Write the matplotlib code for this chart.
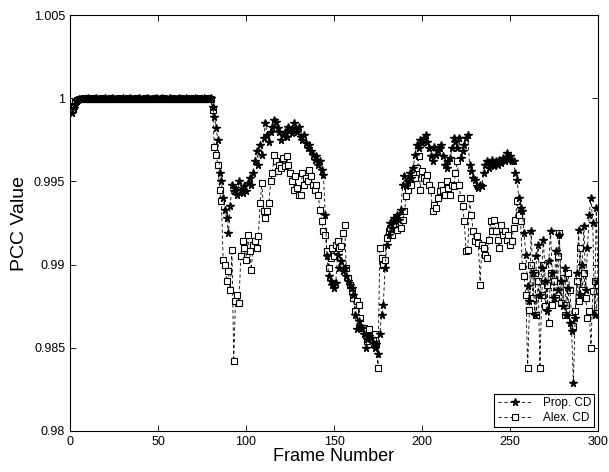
import numpy as np
import matplotlib
matplotlib.use('Agg')
import matplotlib.pyplot as plt

plt.rcParams['font.family'] = ['Liberation Sans', 'DejaVu Sans']

# PCC values per frame (frames 1..300)
prop_cd = [
    0.99910, 0.99940, 0.99965, 0.99985, 0.99993, 0.99997, 0.99995, 0.99998, 0.99996, 0.99999,
    0.99997, 0.99994, 0.99998, 0.99996, 0.99999, 0.99995, 0.99997, 0.99998, 0.99996, 0.99999,
    0.99996, 0.99998, 0.99995, 0.99999, 0.99997, 0.99996, 0.99998, 0.99994, 0.99997, 0.99999,
    0.99995, 0.99998, 0.99996, 0.99999, 0.99997, 0.99995, 0.99998, 0.99996, 0.99999, 0.99997,
    0.99994, 0.99998, 0.99996, 0.99999, 0.99995, 0.99997, 0.99998, 0.99996, 0.99999, 0.99995,
    0.99997, 0.99999, 0.99996, 0.99998, 0.99995, 0.99997, 0.99999, 0.99996, 0.99998, 0.99994,
    0.99997, 0.99999, 0.99995, 0.99998, 0.99996, 0.99999, 0.99997, 0.99995, 0.99998, 0.99996,
    0.99999, 0.99997, 0.99994, 0.99998, 0.99996, 0.99999, 0.99997, 0.99998, 0.99996, 0.99999,
    0.9995, 0.9989, 0.9982, 0.9975, 0.9955, 0.9950, 0.9940, 0.9933, 0.9928, 0.9919,
    0.9935, 0.9948, 0.9944, 0.9946, 0.9942, 0.9950, 0.9945, 0.9943, 0.9947, 0.9944,
    0.9949, 0.9952, 0.9948, 0.9955, 0.9962, 0.9968, 0.9960, 0.9972, 0.9966, 0.9976,
    0.9985, 0.9978, 0.9974, 0.9980, 0.9983, 0.9987, 0.9986, 0.9982, 0.9980, 0.9975,
    0.9978, 0.9980, 0.9977, 0.9983, 0.9981, 0.9979, 0.9985, 0.9982, 0.9980, 0.9983,
    0.9977, 0.9975, 0.9978, 0.9973, 0.9970, 0.9972, 0.9968, 0.9966, 0.9963, 0.9965,
    0.9960, 0.9962, 0.9957, 0.9954, 0.9930, 0.9905, 0.9893, 0.9890, 0.9888, 0.9886,
    0.9889, 0.9906, 0.9898, 0.9902, 0.9896, 0.9898, 0.9893, 0.9890, 0.9888, 0.9886,
    0.9882, 0.9870, 0.9861, 0.9866, 0.9863, 0.9862, 0.9858, 0.9850, 0.9855, 0.9857,
    0.9856, 0.9853, 0.9850, 0.9852, 0.9846, 0.9858, 0.9870, 0.9876, 0.9898, 0.9912,
    0.9918, 0.9925, 0.9922, 0.9928, 0.9926, 0.9930, 0.9927, 0.9933, 0.9948, 0.9953,
    0.9947, 0.9950, 0.9955, 0.9952, 0.9958, 0.9966, 0.9972, 0.9970, 0.9975, 0.9973,
    0.9976, 0.9978, 0.9974, 0.9970, 0.9965, 0.9962, 0.9971, 0.9966, 0.9968, 0.9970,
    0.9972, 0.9965, 0.9960, 0.9958, 0.9962, 0.9964, 0.9970, 0.9976, 0.9974, 0.9970,
    0.9976, 0.9964, 0.9968, 0.9972, 0.9976, 0.9978, 0.9960, 0.9956, 0.9952, 0.9951,
    0.9947, 0.9946, 0.9948, 0.9947, 0.9955, 0.9960, 0.9962, 0.9958, 0.9961, 0.9963,
    0.9959, 0.9962, 0.9960, 0.9963, 0.9961, 0.9964, 0.9962, 0.9967, 0.9963, 0.9965,
    0.9962, 0.9962, 0.9955, 0.9951, 0.9940, 0.9934, 0.9932, 0.9919, 0.9906, 0.9887,
    0.9878, 0.9920, 0.9895, 0.9870, 0.9905, 0.9912, 0.9882, 0.9898, 0.9915, 0.9890,
    0.9872, 0.9902, 0.9920, 0.9895, 0.9880, 0.9908, 0.9885, 0.9918, 0.9890, 0.9875,
    0.9898, 0.9870, 0.9886, 0.9865, 0.9860, 0.9829, 0.9868, 0.9895, 0.9921, 0.9882,
    0.9900, 0.9923, 0.9885, 0.9910, 0.9930, 0.9940, 0.9925, 0.9870, 0.9934, 0.9890,
]

alex_cd = [
    0.99930, 0.99955, 0.99975, 0.99990, 0.99995, 0.99998, 0.99996, 0.99999, 0.99997, 0.99995,
    0.99998, 0.99996, 0.99999, 0.99997, 0.99995, 0.99998, 0.99996, 0.99999, 0.99997, 0.99995,
    0.99998, 0.99996, 0.99999, 0.99997, 0.99995, 0.99998, 0.99996, 0.99999, 0.99997, 0.99995,
    0.99998, 0.99996, 0.99999, 0.99997, 0.99995, 0.99998, 0.99996, 0.99999, 0.99997, 0.99995,
    0.99998, 0.99996, 0.99999, 0.99997, 0.99995, 0.99998, 0.99996, 0.99999, 0.99997, 0.99995,
    0.99998, 0.99996, 0.99999, 0.99997, 0.99995, 0.99998, 0.99996, 0.99999, 0.99997, 0.99995,
    0.99998, 0.99996, 0.99999, 0.99997, 0.99995, 0.99998, 0.99996, 0.99999, 0.99997, 0.99995,
    0.99998, 0.99996, 0.99999, 0.99997, 0.99995, 0.99998, 0.99996, 0.99999, 0.99997, 0.99995,
    0.9993, 0.9971, 0.9966, 0.9960, 0.9945, 0.9938, 0.9903, 0.9900, 0.9890, 0.9896,
    0.9885, 0.9909, 0.9842, 0.9878, 0.9882, 0.9877, 0.9905, 0.9914, 0.9910, 0.9903,
    0.9918, 0.9908, 0.9897, 0.9912, 0.9914, 0.9910, 0.9917, 0.9937, 0.9949, 0.9932,
    0.9928, 0.9932, 0.9937, 0.9950, 0.9955, 0.9966, 0.9962, 0.9956, 0.9960, 0.9958,
    0.9964, 0.9959, 0.9965, 0.9960, 0.9955, 0.9950, 0.9945, 0.9953, 0.9946, 0.9942,
    0.9942, 0.9955, 0.9948, 0.9952, 0.9950, 0.9957, 0.9953, 0.9948, 0.9945, 0.9948,
    0.9942, 0.9933, 0.9926, 0.9920, 0.9918, 0.9908, 0.9898, 0.9904, 0.9910, 0.9905,
    0.9912, 0.9914, 0.9910, 0.9911, 0.9919, 0.9924, 0.9898, 0.9892, 0.9888, 0.9884,
    0.9880, 0.9872, 0.9878, 0.9876, 0.9868, 0.9862, 0.9862, 0.9860, 0.9854, 0.9861,
    0.9857, 0.9855, 0.9858, 0.9852, 0.9838, 0.9910, 0.9904, 0.9900, 0.9903, 0.9916,
    0.9920, 0.9922, 0.9918, 0.9926, 0.9924, 0.9921, 0.9925, 0.9922, 0.9927, 0.9932,
    0.9941, 0.9945, 0.9950, 0.9948, 0.9955, 0.9952, 0.9958, 0.9965, 0.9945, 0.9956,
    0.9952, 0.9950, 0.9954, 0.9948, 0.9945, 0.9932, 0.9936, 0.9934, 0.9940, 0.9944,
    0.9948, 0.9945, 0.9942, 0.9950, 0.9946, 0.9942, 0.9948, 0.9947, 0.9955, 0.9962,
    0.9948, 0.9940, 0.9935, 0.9926, 0.9908, 0.9909, 0.9940, 0.9930, 0.9920, 0.9914,
    0.9917, 0.9913, 0.9888, 0.9912, 0.9910, 0.9906, 0.9904, 0.9915, 0.9926, 0.9920,
    0.9927, 0.9920, 0.9915, 0.9910, 0.9924, 0.9918, 0.9920, 0.9915, 0.9918, 0.9912,
    0.9914, 0.9922, 0.9927, 0.9938, 0.9930, 0.9926, 0.9899, 0.9893, 0.9882, 0.9838,
    0.9873, 0.9900, 0.9880, 0.9895, 0.9870, 0.9890, 0.9838, 0.9882, 0.9900, 0.9875,
    0.9888, 0.9865, 0.9895, 0.9876, 0.9890, 0.9880, 0.9905, 0.9919, 0.9877, 0.9892,
    0.9870, 0.9876, 0.9895, 0.9885, 0.9868, 0.9863, 0.9872, 0.9890, 0.9878, 0.9910,
    0.9885, 0.9895, 0.9880, 0.9868, 0.9872, 0.9850, 0.9884, 0.9890, 0.9871, 0.9888,
]

frames = np.arange(1, len(prop_cd) + 1)
x_ticks = [0, 50, 100, 150, 200, 250, 300]
y_ticks = [0.98, 0.985, 0.99, 0.995, 1.0, 1.005]
y_labels = ['0.98', '0.985', '0.99', '0.995', '1', '1.005']

fig = plt.figure(figsize=(6.09, 4.72), dpi=100)
ax = fig.add_axes([0.115, 0.087, 0.867, 0.881])

# squares first so the stars sit on top (solid band at 1.0)
h_alex, = ax.plot(frames, alex_cd, color='black', ls=(0, (4, 3)), lw=0.6,
                  marker='s', ms=4.5, mfc='white', mec='black', mew=0.8, label='Alex. CD')
h_prop, = ax.plot(frames, prop_cd, color='black', ls=(0, (4, 3)), lw=0.6,
                  marker='*', ms=5.5, mfc='black', mec='black', label='Prop. CD')

ax.set_xlim(0, 300)
ax.set_ylim(0.98, 1.005)
ax.set_xticks(x_ticks)
ax.set_yticks(y_ticks)
ax.set_yticklabels(y_labels)
ax.tick_params(direction='in', top=True, right=True, labelsize=9, length=4, width=0.6)
for s in ax.spines.values():
    s.set_linewidth(0.8)

ax.set_xlabel('Frame Number', fontsize=13, labelpad=0)
ax.set_ylabel('PCC Value', fontsize=14, labelpad=4)

leg = ax.legend(handles=[h_prop, h_alex], loc='lower right', fontsize=8.5, numpoints=1,
                handlelength=3, fancybox=False, edgecolor='black', framealpha=1,
                borderpad=0.3, labelspacing=0.2, borderaxespad=0.3)
leg.get_frame().set_linewidth(0.8)

fig.savefig('out.png', dpi=100)
